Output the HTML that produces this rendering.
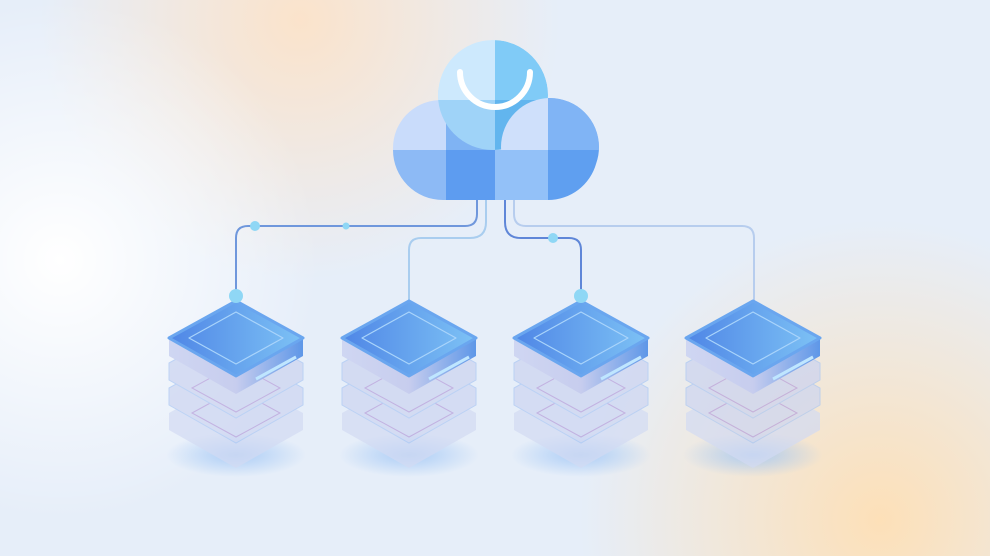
<!DOCTYPE html>
<html><head><meta charset="utf-8"><style>
html,body{margin:0;padding:0;width:990px;height:556px;overflow:hidden;background:#e8f0fa}
</style></head><body>
<svg width="990" height="556" viewBox="0 0 990 556" xmlns="http://www.w3.org/2000/svg">
<defs>
<radialGradient id="o1" cx="300" cy="20" r="260" gradientUnits="userSpaceOnUse"><stop offset="0" stop-color="#fbe3cb"/><stop offset="1" stop-color="#fbe3cb" stop-opacity="0"/></radialGradient>
<radialGradient id="o2" cx="880" cy="520" r="300" gradientUnits="userSpaceOnUse"><stop offset="0" stop-color="#fde0b8"/><stop offset="1" stop-color="#fde0b8" stop-opacity="0"/></radialGradient>
<radialGradient id="w1" cx="60" cy="260" r="260" gradientUnits="userSpaceOnUse"><stop offset="0" stop-color="#ffffff"/><stop offset="1" stop-color="#ffffff" stop-opacity="0"/></radialGradient>
<linearGradient id="top" x1="0" x2="1" y1="0" y2="0"><stop offset="0" stop-color="#4f86e6"/><stop offset="1" stop-color="#7dc2f5"/></linearGradient>
<linearGradient id="side" x1="0" x2="1"><stop offset="0" stop-color="#cfd6f2"/><stop offset="0.5" stop-color="#c7cdee"/><stop offset="1" stop-color="#5e97e8"/></linearGradient>
<radialGradient id="sh" cx="0.5" cy="0.5" r="0.5"><stop offset="0" stop-color="#9cc4f5" stop-opacity="0.8"/><stop offset="1" stop-color="#9cc4f5" stop-opacity="0"/></radialGradient>
<clipPath id="cl"><circle cx="441" cy="148" r="48"/><circle cx="493" cy="95" r="55"/><circle cx="550" cy="147" r="49"/><rect x="393" y="100" width="205" height="100" rx="50" ry="50"/></clipPath>
<clipPath id="tc"><circle cx="493" cy="95" r="55"/></clipPath>
<clipPath id="rc"><circle cx="550" cy="147" r="49"/></clipPath>
<g id="srv">
 <ellipse cx="0" cy="455" rx="70" ry="22" fill="url(#sh)"/>
 <g opacity="0.7">
  <path d="M-67 413 L0 376 L67 413 L67 430 L0 468 L-67 430Z" fill="#d3dbf3"/>
  <path d="M-67 388 L0 351 L67 388 L67 405 L0 443 L-67 405Z" fill="#cdd5f1" stroke="#a9c6f3"/>
  <path d="M-44 413 L0 389 L44 413 L0 437Z" fill="none" stroke="#b49ad8"/>
  <path d="M-67 363 L0 326 L67 363 L67 380 L0 418 L-67 380Z" fill="#cbd3f0" stroke="#a9c6f3"/>
  <path d="M-44 388 L0 364 L44 388 L0 412Z" fill="none" stroke="#b49ad8"/>
 </g>
 <path d="M-67 338 L0 301 L67 338 L67 356 L0 394 L-67 356Z" fill="url(#side)"/>
 <path d="M-67 338 L0 301 L67 338 L0 376Z" fill="url(#top)" stroke="#6aa6ef" stroke-linejoin="round" stroke-width="3"/>
 <path d="M-47 338 L0 312 L47 338 L0 364Z" fill="none" stroke="#a9d4fb" stroke-width="1.2" stroke-linejoin="round"/>
 <path d="M20 379 L60 357" stroke="#bfe6ff" stroke-width="3"/>
</g>
</defs>
<rect width="990" height="556" fill="#e6eef9"/>
<rect width="990" height="556" fill="url(#o1)"/>
<rect width="990" height="556" fill="url(#o2)"/>
<rect width="990" height="556" fill="url(#w1)"/>
<g fill="none" stroke-width="2">
 <path d="M477 200 V214 Q477 226 465 226 H248 Q236 226 236 238 V296" stroke="#6f97dc"/>
 <path d="M486 200 V222 Q486 238 470 238 H421 Q409 238 409 250 V303" stroke="#a9cdef"/>
 <path d="M505 200 V222 Q505 238 521 238 H569 Q581 238 581 250 V296" stroke="#5f86d8"/>
 <path d="M514 200 V214 Q514 226 526 226 H742 Q754 226 754 238 V303" stroke="#b7cdee"/>
</g>
<circle cx="255" cy="226" r="5" fill="#8fd7f5"/>
<circle cx="346" cy="226" r="3.5" fill="#8fd7f5"/>
<circle cx="553" cy="238" r="5" fill="#8fd7f5"/>
<use href="#srv" x="236"/>
<use href="#srv" x="409"/>
<use href="#srv" x="581"/>
<use href="#srv" x="753"/>
<circle cx="236" cy="296" r="7" fill="#8fd7f5"/>
<circle cx="581" cy="296" r="7" fill="#8fd7f5"/>
<g clip-path="url(#cl)">
 <rect x="390" y="90" width="56" height="60" fill="#c9dcfb"/>
 <rect x="446" y="90" width="49" height="60" fill="#7fb3f3"/>
 <rect x="495" y="90" width="53" height="60" fill="#cfe0fb"/>
 <rect x="548" y="90" width="52" height="60" fill="#80b4f5"/>
 <rect x="390" y="150" width="56" height="52" fill="#8dbaf5"/>
 <rect x="446" y="150" width="49" height="52" fill="#5d9cf0"/>
 <rect x="495" y="150" width="53" height="52" fill="#93c1f8"/>
 <rect x="548" y="150" width="52" height="52" fill="#5f9ff0"/>
 <g clip-path="url(#tc)">
  <rect x="430" y="35" width="65" height="65" fill="#cde9fd"/>
  <rect x="495" y="35" width="60" height="65" fill="#80cbf7"/>
  <rect x="430" y="100" width="65" height="55" fill="#9fd3f8"/>
  <rect x="495" y="100" width="60" height="55" fill="#62b5ee"/>
 </g>
 <g clip-path="url(#rc)">
  <rect x="495" y="95" width="53" height="55" fill="#cfe0fb"/>
  <rect x="548" y="95" width="55" height="55" fill="#80b4f5"/>
 </g>
</g>
<path d="M460 72 A35 35 0 0 0 530 72" fill="none" stroke="#fff" stroke-width="6" stroke-linecap="round"/>
</svg>
</body></html>
